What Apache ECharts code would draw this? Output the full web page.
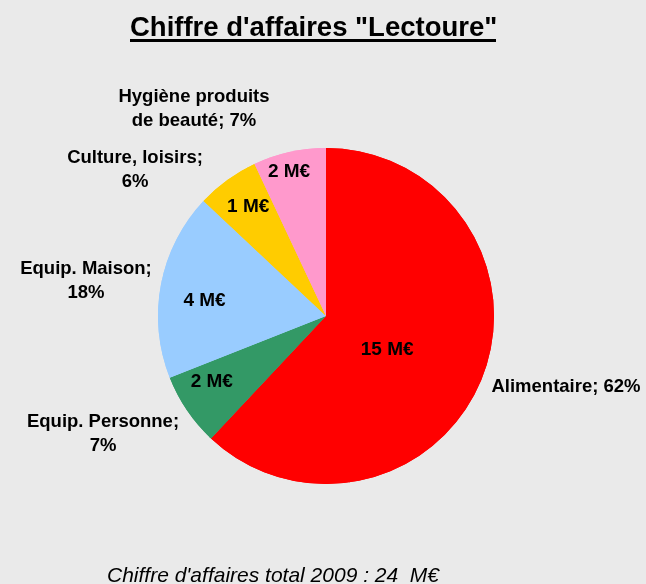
<!DOCTYPE html>
<html><head><meta charset="utf-8">
<script src="https://cdn.jsdelivr.net/npm/echarts@6/dist/echarts.min.js"></script>
<style>html,body{margin:0;padding:0;background:#eaeaea;}#c{width:646px;height:584px;}</style>
</head><body><div id="c"></div>
<script>
// Data (M€, chiffre d'affaires 2009, Lectoure)
const categories = ['Alimentaire', 'Equip. Personne', 'Equip. Maison', 'Culture, loisirs', 'Hygiène produits\nde beauté'];
const valuesME = [14.88, 1.68, 4.32, 1.44, 1.68];
const totalLabel = "Chiffre d'affaires total 2009 : 24  M€";
const titleText = 'Chiffre d\'affaires "Lectoure"';

const colors = ['#ff0000', '#339966', '#99ccff', '#ffcc00', '#ff99cc'];
const CX = 326, CY = 316, R = 168;
const total = valuesME.reduce((a, b) => a + b, 0);
// mid angles (radians, clockwise from top)
const mids = [];
let acc = 0;
valuesME.forEach(v => { mids.push((acc + v / 2) / total * 2 * Math.PI); acc += v; });

// layout of labels (styling, not data)
const innerFrac = [0.41, 0.78, 0.73, 0.81, 0.89];
const innerAngAdj = [0.10, 0.085, -0.05, 0.02, -0.03];
const innerDy = [2, 2, 2, 2, 1];
const outerOffset = [[240, 71], [-223, 118], [-240, -35], [-191, -146], [-132, -207]];
const breakAfterName = [false, true, true, true, false];

const chart = echarts.init(document.getElementById('c'), null, {renderer: 'canvas'});
const data = categories.map((n, i) => ({name: n, value: valuesME[i], itemStyle: {color: colors[i]}}));
const pct = v => Math.round(v / total * 100) + '%';

chart.setOption({
  backgroundColor: '#eaeaea',
  animation: false,
  title: [{
    text: titleText, left: 125, top: 9,
    textStyle: {fontFamily: 'Liberation Sans', fontWeight: 'bold', fontSize: 27.5, color: '#000'}
  }, {
    text: totalLabel, left: 102, top: 561,
    textStyle: {fontFamily: 'Liberation Sans', fontStyle: 'italic', fontWeight: 'normal', fontSize: 21, color: '#000'}
  }],
  graphic: [{
    type: 'rect', shape: {x: 130, y: 39, width: 366, height: 3}, style: {fill: '#000'}
  }],
  series: [{
    type: 'pie', center: [CX, CY], radius: R, clockwise: true, startAngle: 90,
    data: data, silent: true,
    label: {
      position: 'inside', color: '#000', fontFamily: 'Liberation Sans', fontWeight: 'bold', fontSize: 19,
      formatter: p => Math.round(p.value) + ' M€'
    },
    labelLayout: p => {
      const i = p.dataIndex;
      const a = mids[i] + innerAngAdj[i], r = R * innerFrac[i];
      return {x: CX + r * Math.sin(a), y: CY - r * Math.cos(a) + innerDy[i], align: 'center', verticalAlign: 'middle'};
    }
  }, {
    type: 'pie', center: [CX, CY], radius: R, clockwise: true, startAngle: 90,
    data: data, silent: true, itemStyle: {color: 'transparent'},
    label: {
      position: 'outside', color: '#000', fontFamily: 'Liberation Sans', fontWeight: 'bold', fontSize: 18.5,
      lineHeight: 24, align: 'center', overflow: 'none', width: 300,
      formatter: p => p.name + (breakAfterName[p.dataIndex] ? ';\n' : '; ') + pct(p.value)
    },
    labelLine: {show: false},
    labelLayout: p => {
      const o = outerOffset[p.dataIndex];
      return {x: CX + o[0], y: CY + o[1], align: 'center', verticalAlign: 'middle'};
    }
  }]
});
</script></body></html>
